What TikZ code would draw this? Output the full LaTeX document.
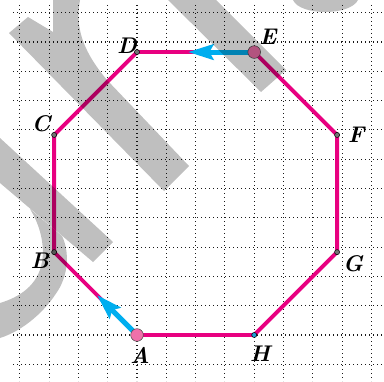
\documentclass[tikz,border=0pt]{standalone}
\usetikzlibrary{arrows.meta}
\definecolor{mag}{RGB}{232,0,128}
\definecolor{cyanA}{RGB}{0,174,239}
\definecolor{pinkpt}{RGB}{240,112,170}
\definecolor{bluept}{RGB}{30,160,215}
\begin{document}
\begin{tikzpicture}[x=0.75pt,y=-0.75pt,
  gridline/.style={line width=0.85pt, dash pattern=on 0.85pt off 2.15pt, black!90},
  edge/.style={mag, line width=2.9pt, line cap=round, line join=round},
  vec/.style={cyanA, line width=3.8pt, -{Stealth[length=19pt,width=11.5pt,inset=3pt]}},
  bigpt/.style={circle, fill=pinkpt, draw=black!70, line width=0.4pt, inner sep=0pt, minimum size=9.5pt},
  smallpt/.style={circle, fill=black!55, draw=black, line width=0.4pt, inner sep=0pt, minimum size=3.8pt},
  bluedot/.style={smallpt, fill=bluept},
  lab/.style={font=\fontsize{17}{20}\selectfont\bfseries\itshape, inner sep=0pt},
  wm/.style={fill=black}]
\fill[white] (0,0) rectangle (384,381);
\useasboundingbox (0,0) rectangle (384,381);
% grid
\foreach \k in {-4,...,8} \draw[gridline] ({137+29.3*\k},5) -- ({137+29.3*\k},381);
\foreach \k in {-1,...,11} \draw[gridline] (13,{335-29.3*\k}) -- (384,{335-29.3*\k});
% vertices
\coordinate (A) at (137,335);
\coordinate (H) at (254.2,335);
\coordinate (G) at (337.07,252.13);
\coordinate (F) at (337.07,134.93);
\coordinate (E) at (254.2,52.06);
\coordinate (D) at (137,52.06);
\coordinate (C) at (54.13,134.93);
\coordinate (B) at (54.13,252.13);
\coordinate (tA) at (97,295);
\coordinate (tE) at (188,52.06);
% octagon
\draw[edge] (A) -- (H) -- (G) -- (F) -- (E) -- (D) -- (C) -- (B) -- cycle;
% vectors
\draw[vec] (A) -- (tA);
\draw[vec] (E) -- (tE);
% points
\node[bigpt] (pA) at (A) {};
\node[bigpt] (pE) at (E) {};
\node[smallpt] (pB) at (B) {};
\node[smallpt] (pC) at (C) {};
\node[smallpt] (pD) at (D) {};
\node[smallpt] (pF) at (F) {};
\node[smallpt] (pG) at (G) {};
\node[bluedot] (pH) at (H) {};
% labels
\node[lab] (lA) at (140,355) {A};
\node[lab] (lB) at (40,261) {B};
\node[lab] (lC) at (41,124) {C};
\node[lab] (lD) at (127,46) {D};
\node[lab] (lE) at (268,37) {E};
\node[lab] (lF) at (356,135) {F};
\node[lab] (lG) at (353,264) {G};
\node[lab] (lH) at (260,354) {H};
% watermark overlay
\begin{scope}[transparency group, opacity=0.25]
\fill[wm] (9,33) -- (28,17) -- (53,32) -- (53,0) -- (80,0)
  .. controls (74,30) and (86,55) .. (107,80) -- (189,166) -- (164,191) -- cycle;
\fill[wm] (168,0) -- (216,0) -- (286,70) -- (261,92) -- cycle;
\fill[wm] (293,0) .. controls (300,16) and (350,16) .. (358,0) -- cycle;
\fill[wm] (0,138) -- (113,242) -- (93,262) -- (0,183) -- cycle;
\fill[wm] (62,236) .. controls (69,250) and (70,275) .. (55,295)
  .. controls (45,310) and (25,330) .. (0,338) -- (0,303)
  .. controls (20,297) and (38,285) .. (42,262)
  .. controls (45,245) and (40,225) .. (30,209) -- cycle;
\end{scope}
\end{tikzpicture}
\end{document}
